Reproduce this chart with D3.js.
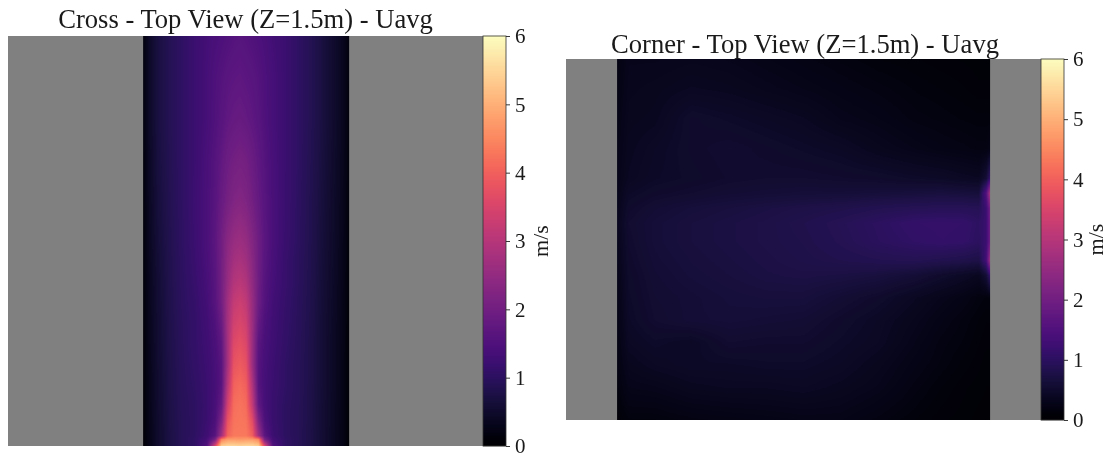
<!DOCTYPE html>
<html><head><meta charset="utf-8">
<script src="https://cdn.jsdelivr.net/npm/d3@7"></script>
<style>html,body{margin:0;padding:0;background:#fff}svg{display:block;filter:blur(.35px)}text{font-family:"Liberation Serif",serif;fill:#1a1a1a}</style>
</head><body><svg id="c" width="1109" height="454"></svg>
<script>
const titles = ["Cross - Top View (Z=1.5m) - Uavg", "Corner - Top View (Z=1.5m) - Uavg"];
const unitLabel = "m/s";
const tickValues = [0,1,2,3,4,5,6];
const speedDomain = [0,6];
const wallColor = "#808080";

// Cross: metres across (0 = jet axis) and metres from nozzle
const crossX = [-2.35,-2.2,-2,-1.7,-1.4,-1.1,-.8,-.6,-.45,-.3,-.15,0,.15,.3,.45,.6,.8,1.1,1.4,1.7,2,2.3,2.5,2.65];
const crossY = [10,9,8,7,6,5,4.5,4,3.5,3,2.5,2,1.5,1,.6,.25,.16,0];
const crossU = [
[.15,.45,.7,.9,1.05, 1.2,1.32,1.4,1.45,1.5,1.55,1.58,1.55,1.5,1.45,1.4,1.3,1.2, 1.05,.9,.7,.5,.35,.15],
[.15,.45,.7,.9,1.05, 1.2,1.35,1.48,1.56,1.64,1.68,1.7,1.66,1.62,1.55,1.46,1.35,1.2, 1.05,.9,.7,.5,.35,.15],
[.15,.45,.7,.9,1.05, 1.2,1.35,1.5,1.62,1.74,1.8,1.83,1.78,1.7,1.6,1.48,1.35,1.2, 1.05,.9,.7,.5,.35,.14],
[.14,.42,.68,.88,1.05, 1.2,1.4,1.58,1.75,1.92,2,2.05,2,1.88,1.72,1.56,1.38,1.2, 1.05,.88,.68,.48,.33,.14],
[.13,.4,.65,.87,1.04, 1.22,1.42,1.62,1.85,2.05,2.2,2.25,2.18,2,1.8,1.6,1.4,1.2, 1.03,.86,.66,.46,.32,.13],
[.12,.38,.62,.85,1.03, 1.2,1.42,1.68,2,2.35,2.55,2.62,2.52,2.25,1.95,1.65,1.4,1.18, 1.02,.85,.64,.45,.3,.12],
[.12,.36,.6,.84,1.02, 1.18,1.4,1.65,2,2.45,2.75,2.82,2.7,2.35,1.95,1.62,1.38,1.15, 1,.84,.63,.44,.29,.12],
[.11,.35,.58,.83,1.01, 1.15,1.36,1.62,2,2.55,2.95,3.05,2.9,2.45,1.95,1.58,1.35,1.15, 1,.83,.62,.43,.28,.11],
[.1,.34,.57,.82,1, 1.12,1.32,1.6,2,2.7,3.2,3.32,3.15,2.55,1.92,1.55,1.3,1.12, .98,.82,.61,.42,.27,.1],
[.1,.33,.56,.81,.98, 1.1,1.28,1.5,1.85,2.75,3.4,3.52,3.35,2.6,1.8,1.46,1.27,1.1, .97,.81,.6,.41,.26,.1],
[.09,.32,.55,.8,.97, 1.1,1.25,1.42,1.7,2.75,3.6,3.72,3.55,2.6,1.65,1.4,1.25,1.08, .96,.8,.6,.4,.26,.09],
[.09,.31,.54,.79,.96, 1.08,1.22,1.38,1.6,2.75,3.8,3.92,3.75,2.6,1.58,1.36,1.22,1.05, .95,.8,.6,.4,.25,.09],
[.09,.3,.53,.78,.95, 1.05,1.2,1.36,1.6,3,4.02,4.12,3.98,2.9,1.58,1.34,1.2,1.05, .95,.79,.6,.4,.25,.09],
[.08,.29,.52,.77,.94, 1.02,1.18,1.38,1.8,3.4,4.18,4.25,4.15,3.2,1.75,1.36,1.17,1.02, .94,.78,.59,.39,.25,.08],
[.08,.28,.51,.76,.93, 1.02,1.2,1.45,2.2,3.8,4.25,4.28,4.25,3.7,2.2,1.45,1.18,1.02, .93,.78,.59,.39,.24,.08],
[.08,.27,.5,.75,.93, 1.02,1.25,1.6,2.7,4.05,4.32,4.32,4.32,4,2.7,1.65,1.22,1.02, .93,.77,.58,.38,.24,.08],
[.08,.26,.5,.75,.93, 1.05,1.35,2.1,4.4,4.75,4.75,4.7,4.75,4.75,4.5,2.1,1.3,1.05, .93,.77,.58,.38,.24,.08],
[.07,.25,.5,.75,.92, 1.05,1.5,3.6,5.4,5.5,5.5,5.45,5.5,5.5,5.4,3.6,1.5,1.05, .92,.76,.58,.38,.24,.07]
];

// Corner: metres across and metres from top edge
const cornerX = [0,.3,1,2,3,4,5,6,7,8,8.7,9.3,9.7,9.9,10];
const cornerY = [0,.8,1.6,2.4,3.2,3.6,4,4.4,4.9,5.4,5.8,6.4,7,7.6,8.2,8.8,9.68];
const cornerU = [
[.2,.3,.3,.32,.3,.26,.22,.18,.14,.12,.1,.09,.08,.08,.08],
[.22,.32,.34,.38,.36,.32,.28,.24,.2,.16,.14,.12,.1,.1,.1],
[.24,.34,.36,.5,.46,.42,.38,.3,.26,.2,.18,.16,.15,.15,.15],
[.26,.36,.42,.5,.54,.5,.46,.42,.34,.28,.24,.22,.2,.2,.25],
[.28,.38,.44,.48,.52,.54,.54,.52,.5,.46,.44,.4,.38,.6,1.1],
[.3,.44,.5,.54,.58,.6,.62,.62,.64,.66,.68,.66,.64,1.5,2.8],
[.32,.5,.58,.64,.68,.72,.76,.8,.86,.9,.92,.92,.9,1.2,2],
[.34,.54,.62,.68,.72,.76,.82,.9,1,1.1,1.12,1.1,1.02,1.2,1.9],
[.32,.52,.62,.68,.72,.76,.8,.88,.98,1.06,1.1,1.08,1,1.2,1.9],
[.3,.5,.6,.66,.7,.74,.78,.82,.86,.88,.84,.8,.76,1.3,2.6],
[.28,.48,.58,.64,.68,.72,.74,.72,.68,.6,.5,.42,.36,.6,1.1],
[.26,.46,.56,.6,.64,.66,.66,.58,.5,.38,.3,.24,.18,.16,.16],
[.24,.44,.54,.6,.62,.6,.58,.5,.42,.32,.24,.18,.14,.12,.12],
[.22,.4,.46,.42,.54,.52,.52,.46,.4,.28,.2,.16,.12,.1,.1],
[.2,.34,.4,.44,.44,.46,.46,.42,.34,.24,.18,.13,.1,.08,.08],
[.16,.28,.3,.36,.38,.38,.4,.36,.3,.2,.14,.1,.08,.07,.07],
[.1,.16,.16,.2,.22,.24,.26,.26,.2,.14,.1,.08,.06,.06,.06]
];

const svg = d3.select("#c");
const color = d3.scaleSequential(d3.interpolateMagma).domain(speedDomain);

function field(xs, ys, grid, x, y) {
  const [x0,x1] = [x(xs[0]), x(xs[xs.length-1])];
  const y0 = Math.min(y(ys[0]), y(ys[ys.length-1])), y1 = Math.max(y(ys[0]), y(ys[ys.length-1]));
  const w = Math.round(x1-x0), h = Math.round(y1-y0);
  const cv = document.createElement("canvas"); cv.width=w; cv.height=h;
  const g = cv.getContext("2d"), im = g.createImageData(w,h);
  const ci = d3.scaleLinear().domain(xs.map(x)).range(xs.map((_,i)=>i)).clamp(true);
  const ri = d3.scaleLinear().domain(ys.map(y)).range(ys.map((_,i)=>i)).clamp(true);
  for (let py=0; py<h; py++) for (let px=0; px<w; px++) {
    const cf=ci(x0+px+.5), rf=ri(y0+py+.5);
    const c=Math.min(Math.floor(cf),xs.length-2), r=Math.min(Math.floor(rf),ys.length-2);
    const a=cf-c, b=rf-r;
    const v=(grid[r][c]*(1-a)+grid[r][c+1]*a)*(1-b)+(grid[r+1][c]*(1-a)+grid[r+1][c+1]*a)*b;
    const k=d3.rgb(color(v)), i=(py*w+px)*4;
    im.data[i]=k.r; im.data[i+1]=k.g; im.data[i+2]=k.b; im.data[i+3]=255;
  }
  g.putImageData(im,0,0);
  svg.append("image").attr("x",x0).attr("y",y0).attr("width",w).attr("height",h).attr("href",cv.toDataURL());
}

function colorbar(xLeft, width, top, bottom, labelX) {
  const s = d3.scaleLinear().domain(speedDomain).range([bottom, top]);
  const n = Math.round(bottom-top);
  const levels = d3.range(n).map(i=>speedDomain[0]+(i+.5)/n*(speedDomain[1]-speedDomain[0]));
  const cellH = (bottom-top)/n;
  svg.append("g").selectAll("rect").data(levels).join("rect")
    .attr("x",xLeft).attr("width",width).attr("y",d=>s(d)-cellH/2-.2).attr("height",cellH+.4).attr("fill",d=>color(d));
  svg.append("rect").attr("x",xLeft).attr("y",top).attr("width",width).attr("height",bottom-top)
    .attr("fill","none").attr("stroke","#333").attr("stroke-width",.8);
  const ax = svg.append("g").attr("transform",`translate(${xLeft+width},0)`)
    .call(d3.axisRight(s).tickValues(tickValues).tickSize(4).tickPadding(5).tickFormat(d3.format("d")));
  ax.select(".domain").remove();
  ax.selectAll("line").attr("stroke","#222").attr("stroke-width",.9);
  ax.selectAll("text").attr("font-size",21).attr("font-family",null).style("fill","#1a1a1a");
  svg.append("text").attr("transform",`translate(${labelX},${(top+bottom)/2}) rotate(-90)`)
    .attr("text-anchor","middle").attr("font-size",22).text(unitLabel);
}

function panel(cfg){
  const x = d3.scaleLinear().domain(cfg.xDom).range(cfg.xRange);
  const y = d3.scaleLinear().domain(cfg.yDom).range(cfg.yRange);
  svg.append("rect").attr("x",cfg.xRange[0]).attr("y",cfg.yRange[1]).attr("width",cfg.xRange[1]-cfg.xRange[0])
    .attr("height",cfg.yRange[0]-cfg.yRange[1]).attr("fill",wallColor);
  field(cfg.xs,cfg.ys,cfg.grid,x,y);
  svg.append("text").attr("x",cfg.titleX).attr("y",cfg.titleY).attr("text-anchor","middle").attr("font-size",26.6).text(cfg.title);
  colorbar(cfg.xRange[1],23,cfg.yRange[1],cfg.yRange[0],cfg.labelX);
}

panel({xs:crossX,ys:crossY,grid:crossU,xDom:[-5.63,5.9],yDom:[0,10],xRange:[8,483],yRange:[446,36],
  title:titles[0],titleX:245.5,titleY:28,labelX:548});
panel({xs:cornerX,ys:cornerY,grid:cornerU,xDom:[-1.37,11.37],yDom:[9.68,0],xRange:[566,1041],yRange:[420,59],
  title:titles[1],titleX:805,titleY:53,labelX:1103});
</script></body></html>
